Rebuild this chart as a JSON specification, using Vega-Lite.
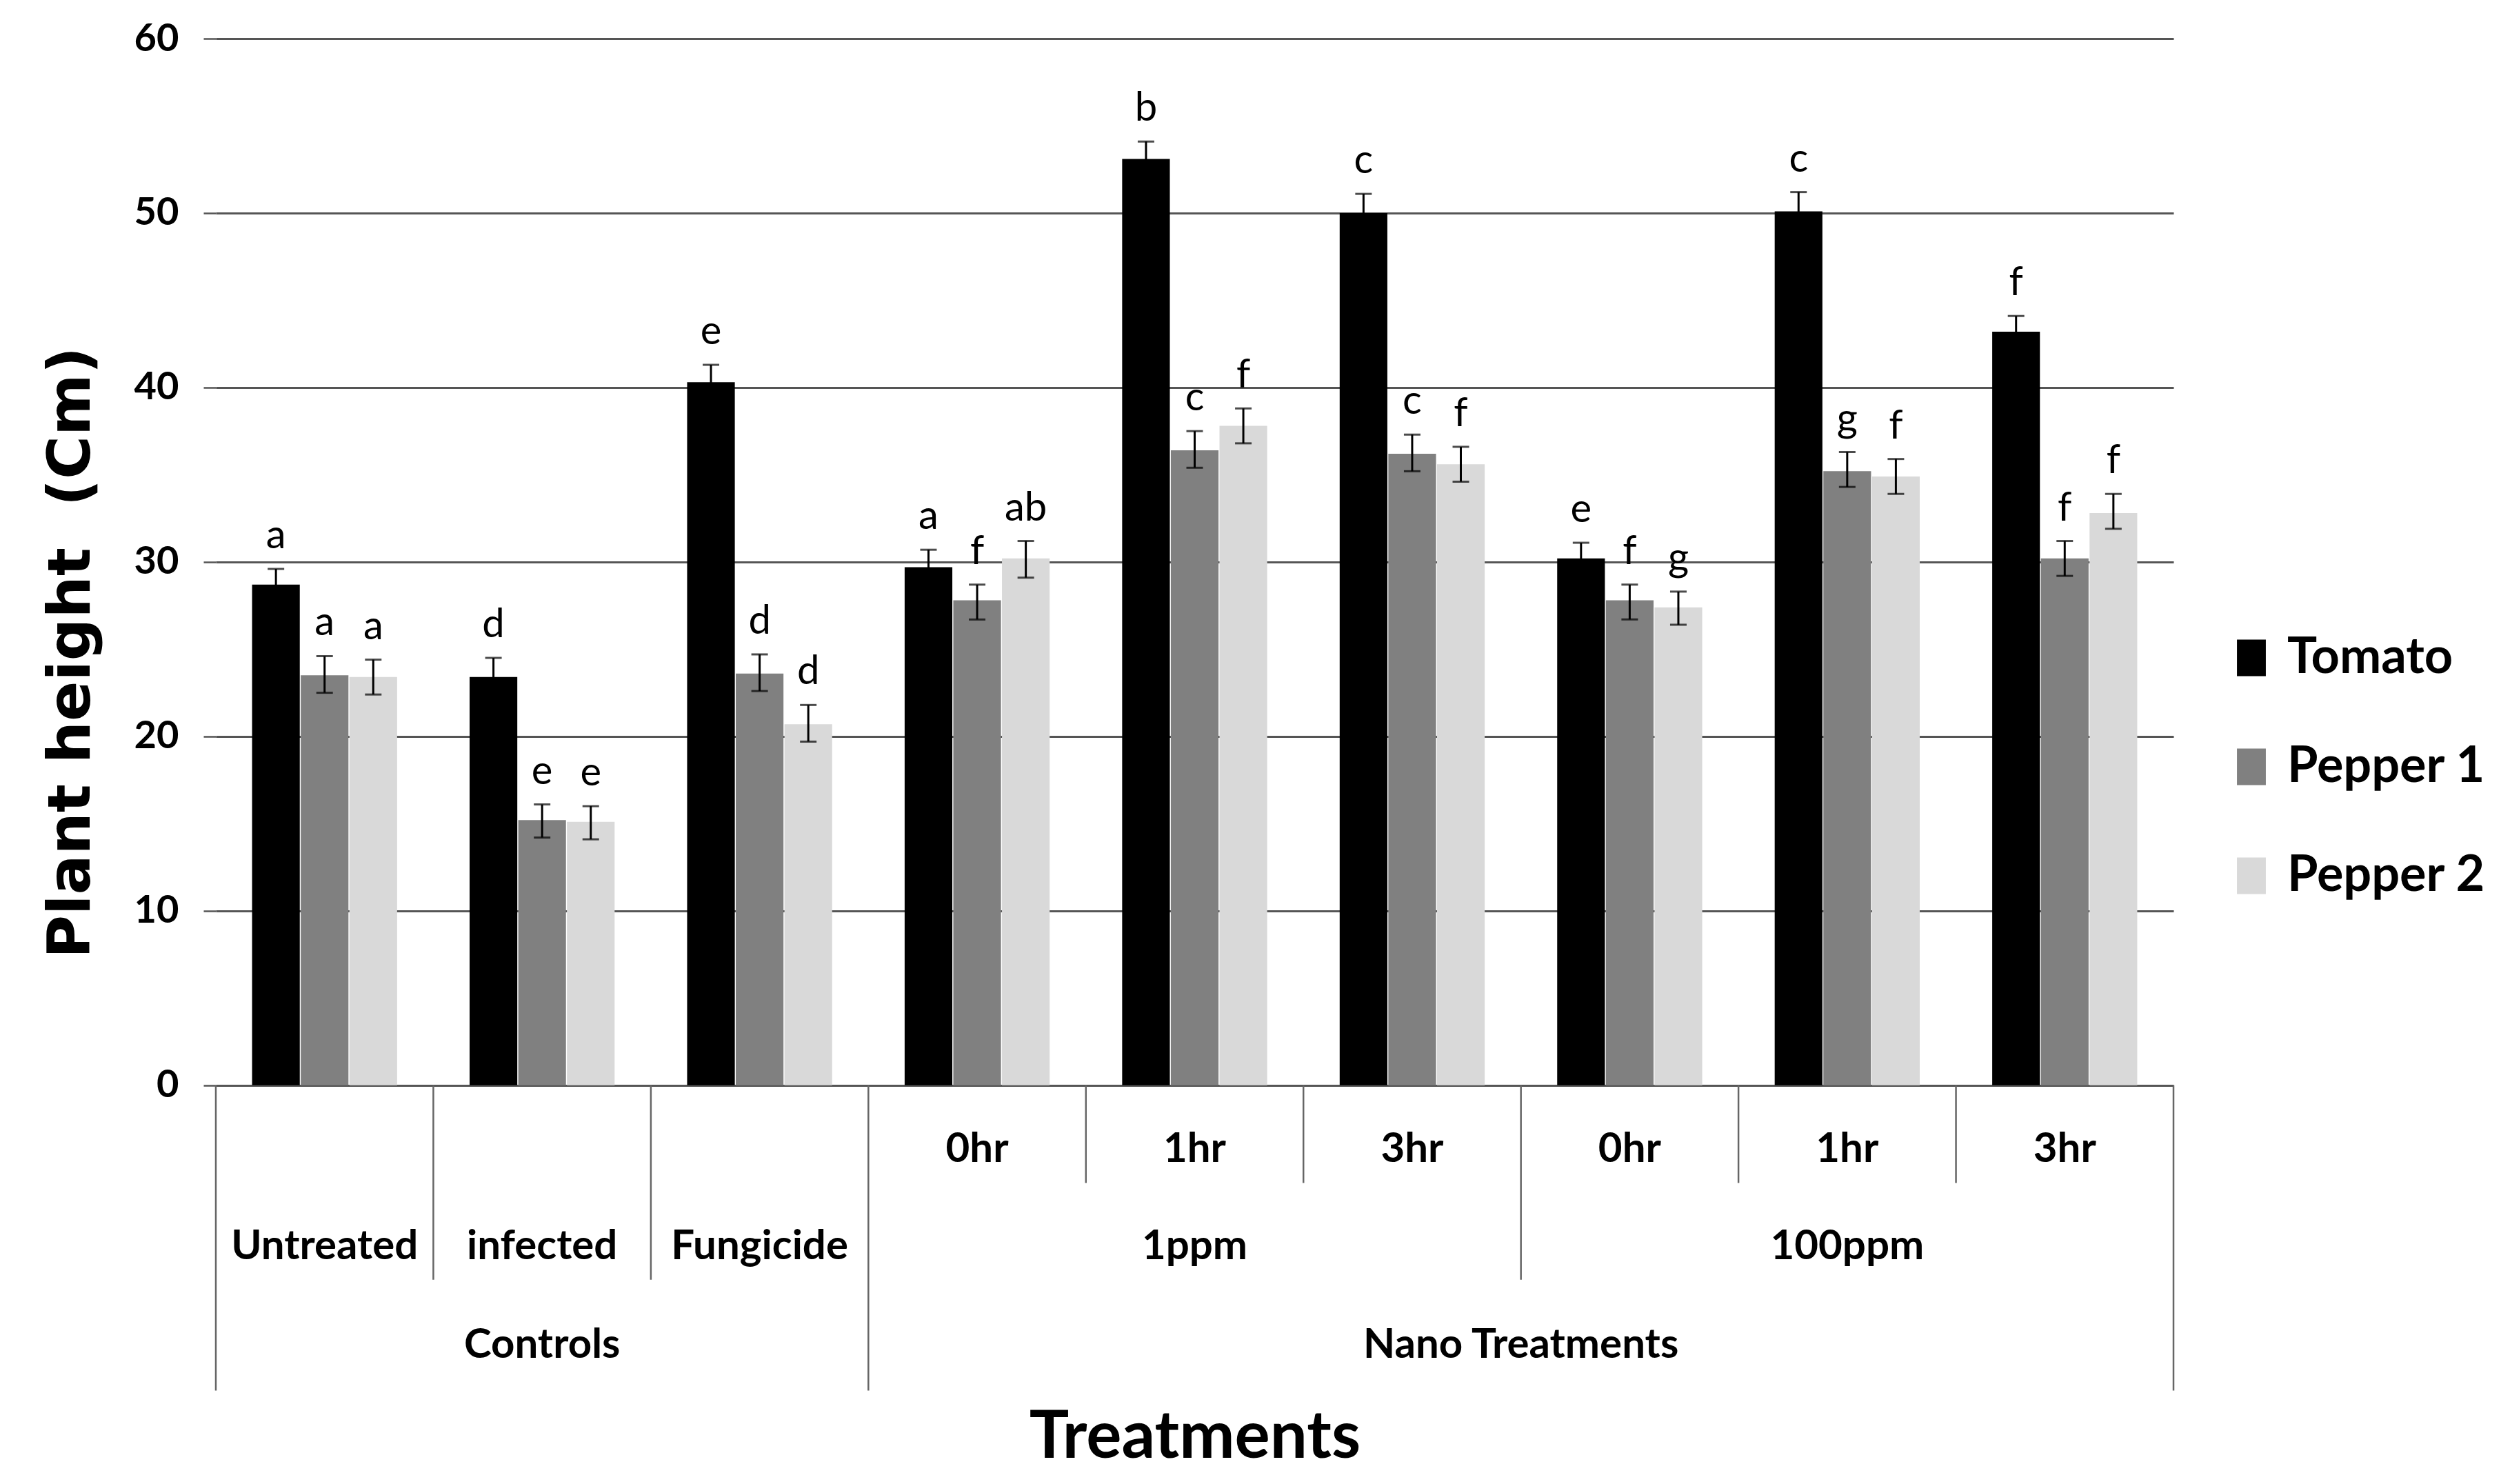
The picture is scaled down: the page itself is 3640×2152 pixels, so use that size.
{
  "$schema": "https://vega.github.io/schema/vega-lite/v6.json",
  "width": 2839,
  "height": 1963,
  "autosize": {"type": "none"},
  "padding": {"left": 313, "top": 56, "right": 488, "bottom": 133},
  "background": "white",
  "config": {
    "view": {"stroke": null},
    "font": "Lato, Liberation Sans, sans-serif"
  },
  "datasets": {
    "bars": [
      {"group": "Untreated", "series": "Tomato", "value": 28.7, "lo": 27.7, "hi": 29.6, "letter": "a"},
      {"group": "Untreated", "series": "Pepper 1", "value": 23.5, "lo": 22.5, "hi": 24.6, "letter": "a"},
      {"group": "Untreated", "series": "Pepper 2", "value": 23.4, "lo": 22.4, "hi": 24.4, "letter": "a"},
      {"group": "infected", "series": "Tomato", "value": 23.4, "lo": 22.4, "hi": 24.5, "letter": "d"},
      {"group": "infected", "series": "Pepper 1", "value": 15.2, "lo": 14.2, "hi": 16.1, "letter": "e"},
      {"group": "infected", "series": "Pepper 2", "value": 15.1, "lo": 14.1, "hi": 16.0, "letter": "e"},
      {"group": "Fungicide", "series": "Tomato", "value": 40.3, "lo": 39.3, "hi": 41.3, "letter": "e"},
      {"group": "Fungicide", "series": "Pepper 1", "value": 23.6, "lo": 22.6, "hi": 24.7, "letter": "d"},
      {"group": "Fungicide", "series": "Pepper 2", "value": 20.7, "lo": 19.7, "hi": 21.8, "letter": "d"},
      {"group": "1ppm 0hr", "series": "Tomato", "value": 29.7, "lo": 28.7, "hi": 30.7, "letter": "a"},
      {"group": "1ppm 0hr", "series": "Pepper 1", "value": 27.8, "lo": 26.7, "hi": 28.7, "letter": "f"},
      {"group": "1ppm 0hr", "series": "Pepper 2", "value": 30.2, "lo": 29.1, "hi": 31.2, "letter": "ab"},
      {"group": "1ppm 1hr", "series": "Tomato", "value": 53.1, "lo": 52.1, "hi": 54.1, "letter": "b"},
      {"group": "1ppm 1hr", "series": "Pepper 1", "value": 36.4, "lo": 35.4, "hi": 37.5, "letter": "c"},
      {"group": "1ppm 1hr", "series": "Pepper 2", "value": 37.8, "lo": 36.8, "hi": 38.8, "letter": "f"},
      {"group": "1ppm 3hr", "series": "Tomato", "value": 50.0, "lo": 49.0, "hi": 51.1, "letter": "c"},
      {"group": "1ppm 3hr", "series": "Pepper 1", "value": 36.2, "lo": 35.2, "hi": 37.3, "letter": "c"},
      {"group": "1ppm 3hr", "series": "Pepper 2", "value": 35.6, "lo": 34.6, "hi": 36.6, "letter": "f"},
      {"group": "100ppm 0hr", "series": "Tomato", "value": 30.2, "lo": 29.2, "hi": 31.1, "letter": "e"},
      {"group": "100ppm 0hr", "series": "Pepper 1", "value": 27.8, "lo": 26.7, "hi": 28.7, "letter": "f"},
      {"group": "100ppm 0hr", "series": "Pepper 2", "value": 27.4, "lo": 26.4, "hi": 28.3, "letter": "g"},
      {"group": "100ppm 1hr", "series": "Tomato", "value": 50.1, "lo": 49.1, "hi": 51.2, "letter": "c"},
      {"group": "100ppm 1hr", "series": "Pepper 1", "value": 35.2, "lo": 34.3, "hi": 36.3, "letter": "g"},
      {"group": "100ppm 1hr", "series": "Pepper 2", "value": 34.9, "lo": 33.9, "hi": 35.9, "letter": "f"},
      {"group": "100ppm 3hr", "series": "Tomato", "value": 43.2, "lo": 42.2, "hi": 44.1, "letter": "f"},
      {"group": "100ppm 3hr", "series": "Pepper 1", "value": 30.2, "lo": 29.2, "hi": 31.2, "letter": "f"},
      {"group": "100ppm 3hr", "series": "Pepper 2", "value": 32.8, "lo": 31.9, "hi": 33.9, "letter": "f"}
    ],
    "divs": [
      {"pos": 0, "level": 3}, {"pos": 3, "level": 3}, {"pos": 9, "level": 3},
      {"pos": 1, "level": 2}, {"pos": 2, "level": 2}, {"pos": 6, "level": 2},
      {"pos": 4, "level": 1}, {"pos": 5, "level": 1}, {"pos": 7, "level": 1}, {"pos": 8, "level": 1}
    ],
    "cats": [
      {"label": "0hr", "pos": 3.5, "level": 1},
      {"label": "1hr", "pos": 4.5, "level": 1},
      {"label": "3hr", "pos": 5.5, "level": 1},
      {"label": "0hr", "pos": 6.5, "level": 1},
      {"label": "1hr", "pos": 7.5, "level": 1},
      {"label": "3hr", "pos": 8.5, "level": 1},
      {"label": "Untreated", "pos": 0.5, "level": 2},
      {"label": "infected", "pos": 1.5, "level": 2},
      {"label": "Fungicide", "pos": 2.5, "level": 2},
      {"label": "1ppm", "pos": 4.5, "level": 2},
      {"label": "100ppm", "pos": 7.5, "level": 2},
      {"label": "Controls", "pos": 1.5, "level": 3},
      {"label": "Nano Treatments", "pos": 6, "level": 3}
    ],
    "one": [{}]
  },
  "layer": [
    {
      "data": {"name": "bars"},
      "encoding": {
        "x": {"field": "group", "type": "nominal", "sort": null, "scale": {"paddingInner": 0.3333, "paddingOuter": 0.16667}, "axis": null},
        "xOffset": {"field": "series", "type": "nominal", "sort": ["Tomato", "Pepper 1", "Pepper 2"], "scale": {"paddingInner": 0.02, "paddingOuter": 0}}
      },
      "layer": [
        {
          "mark": {"type": "bar"},
          "encoding": {
            "y": {
              "field": "value", "type": "quantitative",
              "scale": {"domain": [-17.6, 60], "nice": false, "zero": false},
              "axis": {
                "values": [0, 10, 20, 30, 40, 50, 60],
                "title": "Plant height\u00a0 (Cm)",
                "titleFont": "DejaVu Sans", "titleFontWeight": "bold", "titleFontSize": 86, "titleColor": "black",
                "titleAngle": -90, "titleX": -210, "titleY": 890, "titleAlign": "center", "titleBaseline": "middle",
                "labelFont": "Lato", "labelFontSize": 56, "labelFontWeight": "bold", "labelColor": "black", "labelPadding": 36,
                "tickSize": 18, "tickColor": "#555555", "tickWidth": 2.5,
                "domain": false, "grid": true, "gridColor": "#555555", "gridWidth": 3
              }
            },
            "color": {
              "field": "series", "type": "nominal",
              "scale": {"domain": ["Tomato", "Pepper 1", "Pepper 2"], "range": ["#000000", "#808080", "#d9d9d9"]},
              "legend": {
                "title": null, "orient": "none", "legendX": 2916, "legendY": 862, "padding": 0,
                "symbolType": "M-0.79,-1H0.79V1H-0.79Z", "symbolSize": 2809, "symbolStrokeWidth": 0,
                "labelFont": "Lato", "labelFontSize": 72, "labelFontWeight": "bold", "labelColor": "black", "labelOffset": 16,
                "labelLimit": 600, "rowPadding": 86
              }
            }
          }
        },
        {
          "mark": {"type": "rule", "color": "black", "strokeWidth": 3},
          "encoding": {
            "y": {"field": "lo", "type": "quantitative", "scale": {"domain": [-17.6, 60], "nice": false, "zero": false}},
            "y2": {"field": "hi"}
          }
        },
        {
          "mark": {"type": "tick", "color": "black", "size": 24, "thickness": 3},
          "encoding": {"y": {"field": "lo", "type": "quantitative", "scale": {"domain": [-17.6, 60], "nice": false, "zero": false}}}
        },
        {
          "mark": {"type": "tick", "color": "black", "size": 24, "thickness": 3},
          "encoding": {"y": {"field": "hi", "type": "quantitative", "scale": {"domain": [-17.6, 60], "nice": false, "zero": false}}}
        },
        {
          "mark": {"type": "text", "baseline": "alphabetic", "align": "center", "dy": -30, "font": "Lato", "fontSize": 58, "color": "black"},
          "encoding": {
            "y": {"field": "hi", "type": "quantitative", "scale": {"domain": [-17.6, 60], "nice": false, "zero": false}},
            "text": {"field": "letter"}
          }
        }
      ]
    },
    {
      "encoding": {
        "x": {
          "field": "pos", "type": "quantitative",
          "scale": {"domain": [0, 9], "nice": false, "zero": false},
          "axis": {
            "title": "Treatments", "labels": false, "ticks": false, "domain": false, "grid": false,
            "titleFont": "Lato", "titleFontSize": 96, "titleFontWeight": "bold", "titleColor": "black", "titlePadding": 18
          }
        }
      },
      "layer": [
        {
          "data": {"name": "divs"},
          "transform": [{"filter": "datum.level == 3"}],
          "mark": {"type": "rule", "color": "#666666", "strokeWidth": 2.5},
          "encoding": {
            "y": {"datum": 0, "type": "quantitative", "scale": {"domain": [-17.6, 60], "nice": false, "zero": false}},
            "y2": {"datum": -17.5}
          }
        },
        {
          "data": {"name": "divs"},
          "transform": [{"filter": "datum.level == 2"}],
          "mark": {"type": "rule", "color": "#666666", "strokeWidth": 2.5},
          "encoding": {
            "y": {"datum": 0, "type": "quantitative", "scale": {"domain": [-17.6, 60], "nice": false, "zero": false}},
            "y2": {"datum": -11.15}
          }
        },
        {
          "data": {"name": "divs"},
          "transform": [{"filter": "datum.level == 1"}],
          "mark": {"type": "rule", "color": "#666666", "strokeWidth": 2.5},
          "encoding": {
            "y": {"datum": 0, "type": "quantitative", "scale": {"domain": [-17.6, 60], "nice": false, "zero": false}},
            "y2": {"datum": -5.6}
          }
        },
        {
          "data": {"name": "one"},
          "mark": {"type": "rule", "color": "#666666", "strokeWidth": 2.5},
          "encoding": {
            "x": {"datum": 0, "type": "quantitative"},
            "y": {"datum": 60, "type": "quantitative", "scale": {"domain": [-17.6, 60], "nice": false, "zero": false}},
            "y2": {"datum": 0}
          }
        },
        {
          "data": {"name": "one"},
          "mark": {"type": "rule", "color": "#444444", "strokeWidth": 3.5},
          "encoding": {
            "x": {"datum": 0, "type": "quantitative"},
            "x2": {"datum": 9},
            "y": {"datum": 0, "type": "quantitative", "scale": {"domain": [-17.6, 60], "nice": false, "zero": false}}
          }
        },
        {
          "data": {"name": "cats"},
          "transform": [{"filter": "datum.level == 1"}],
          "mark": {"type": "text", "baseline": "middle", "align": "center", "font": "Lato", "fontSize": 60, "fontWeight": "bold", "color": "black"},
          "encoding": {
            "y": {"datum": -3.68, "type": "quantitative", "scale": {"domain": [-17.6, 60], "nice": false, "zero": false}},
            "text": {"field": "label"}
          }
        },
        {
          "data": {"name": "cats"},
          "transform": [{"filter": "datum.level == 2"}],
          "mark": {"type": "text", "baseline": "middle", "align": "center", "font": "Lato", "fontSize": 60, "fontWeight": "bold", "color": "black"},
          "encoding": {
            "y": {"datum": -9.25, "type": "quantitative", "scale": {"domain": [-17.6, 60], "nice": false, "zero": false}},
            "text": {"field": "label"}
          }
        },
        {
          "data": {"name": "cats"},
          "transform": [{"filter": "datum.level == 3"}],
          "mark": {"type": "text", "baseline": "middle", "align": "center", "font": "Lato", "fontSize": 60, "fontWeight": "bold", "color": "black"},
          "encoding": {
            "y": {"datum": -14.9, "type": "quantitative", "scale": {"domain": [-17.6, 60], "nice": false, "zero": false}},
            "text": {"field": "label"}
          }
        }
      ]
    }
  ],
  "resolve": {"scale": {"x": "independent"}, "axis": {"x": "independent"}}
}
